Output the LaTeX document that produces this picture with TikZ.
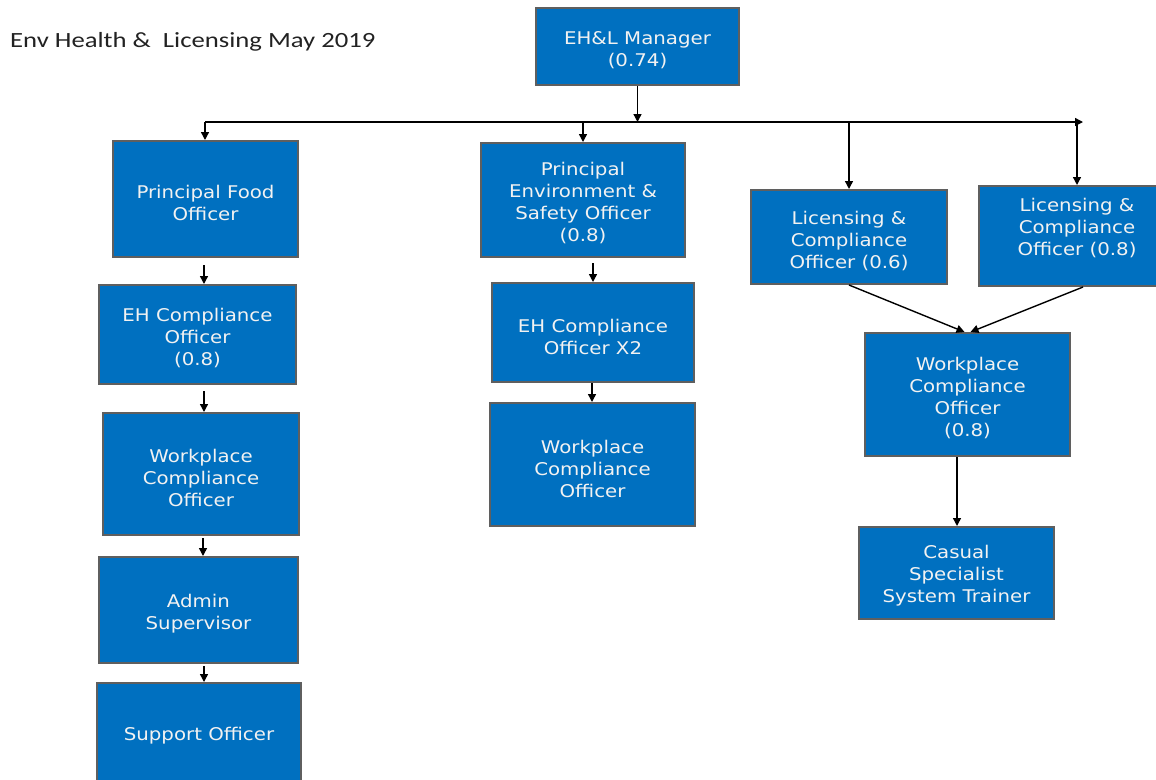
\documentclass[tikz,border=0pt]{standalone}
\usepackage{fontspec}
\usetikzlibrary{arrows.meta}
\newfontfamily\boxfam[FakeStretch=1.13]{DejaVu Sans}
\newfontfamily\titlefam[FakeStretch=1.23]{Carlito}
\definecolor{boxblue}{HTML}{0070C0}
\definecolor{boxedge}{HTML}{5F5F5F}
\definecolor{boxtext}{HTML}{F2F2F2}
\definecolor{titlecol}{HTML}{222222}
\tikzset{
  orgbox/.style={draw=boxedge, fill=boxblue, line width=2pt, inner sep=0pt},
  boxlabel/.style={inner sep=0pt, text=boxtext, align=center,
    font=\boxfam\fontsize{17.5}{22}\selectfont},
  arr/.style={draw=black, line width=1.4pt, -{Triangle[length=8pt,width=8pt]}}
}
% \orgnode{name}{cx}{cy}{w}{h}{text cy}{text}
\newcommand{\orgnode}[7]{%
  \node[orgbox, minimum width=#4, minimum height=#5] (#1) at (#2,#3) {};
  \node[boxlabel] (#1-t) at (#2,#6) {#7};}
\begin{document}
\begin{tikzpicture}[x=1pt,y=-1pt]
\useasboundingbox (0,0) rectangle (1156,779);
\fill[white] (0,0) rectangle (1156,779);
\clip (0,0) rectangle (1156,779);

\node[anchor=west, inner sep=0pt, text=titlecol, font=\titlefam\fontsize{21.7}{26}\selectfont] (title) at (10,42) {Env Health \&\ \ Licensing May 2019};

\orgnode{mgr}{637.5}{46.5}{203}{77}{50}{EH\&L Manager\\(0.74)}

\orgnode{pfo}{205.5}{199}{185}{116}{203}{Principal Food\\Officer}
\orgnode{eh1}{197.5}{334.5}{197}{99}{338}{EH Compliance\\Officer\\(0.8)}
\orgnode{wp1}{201}{474}{196}{122}{478}{Workplace\\Compliance\\Officer}
\orgnode{adm}{198.5}{610}{199}{106}{614}{Admin\\Supervisor}
\orgnode{sup}{199}{733}{204}{100}{736}{Support Officer}

\orgnode{pes}{583}{200}{204}{114}{203}{Principal\\Environment \&\\Safety Officer\\(0.8)}
\orgnode{eh2}{593}{332.5}{202}{99}{337}{EH Compliance\\Officer X2}
\orgnode{wp2}{592.5}{464.5}{205}{123}{469}{Workplace\\Compliance\\Officer}

\orgnode{lc1}{849}{237}{196}{94}{241}{Licensing \&\\Compliance\\Officer (0.6)}
\orgnode{lc2}{1077}{236}{196}{100}{228}{Licensing \&\\Compliance\\Officer (0.8)}
\orgnode{wp3}{967.5}{394.5}{205}{123}{398}{Workplace\\Compliance\\Officer\\(0.8)}
\orgnode{cas}{956.5}{573}{195}{92}{576}{Casual\\Specialist\\System Trainer}

% bus
\coordinate (busL) at (205,122);
\coordinate (busR) at (1083,122);
\draw[arr] (busL) -- (busR);
\draw[arr] (mgr.south) -- (mgr.south |- busL);
\draw[arr] (busL) -- (busL |- pfo.north);
\draw[arr] (pes.north |- busL) -- (pes.north);
\draw[arr] (lc1.north |- busL) -- (lc1.north);
\draw[arr] (lc2.north |- busL) -- (lc2.north);

% left column
\draw[arr, shorten <=7pt] ([xshift=-1.5pt]pfo.south) -- ([xshift=-1.5pt]pfo.south |- eh1.north);
\draw[arr, shorten <=6pt] ([xshift=3pt]wp1.north |- eh1.south) -- ([xshift=3pt]wp1.north);
\draw[arr, shorten <=2pt] ([xshift=2pt]wp1.south) -- ([xshift=2pt]wp1.south |- adm.north);
\draw[arr, shorten <=2pt] ([xshift=5pt]sup.north |- adm.south) -- ([xshift=5pt]sup.north);

% middle column
\draw[arr, shorten <=5pt] (eh2.north |- pes.south) -- (eh2.north);
\draw[arr] ([xshift=-1pt]eh2.south) -- ([xshift=-1pt]eh2.south |- wp2.north);

% right group
\draw[arr] (lc1.south) -- ([xshift=-3pt]wp3.north);
\draw[arr] ([xshift=6pt]lc2.south) -- ([xshift=3pt]wp3.north);
\draw[arr] ([xshift=0.5pt]cas.north |- wp3.south) -- ([xshift=0.5pt]cas.north);
\end{tikzpicture}
\end{document}
